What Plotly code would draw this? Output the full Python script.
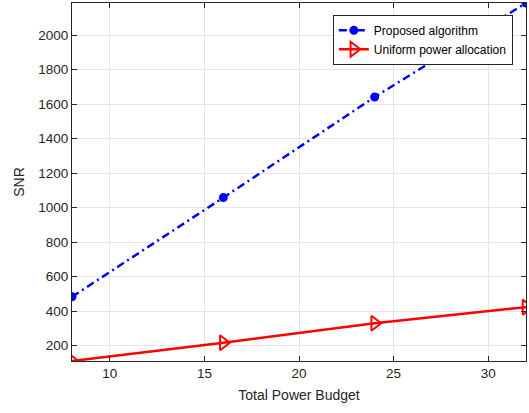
import plotly.graph_objects as go

# Total power budget values and resulting SNR for both schemes
power_budget = [8, 16, 24, 32]
snr_proposed = [483, 1058, 1641, 2186]
snr_uniform = [111, 217, 330, 423]

x_ticks = [10, 15, 20, 25, 30]
y_ticks = [200, 400, 600, 800, 1000, 1200, 1400, 1600, 1800, 2000]

axis_color = "#262626"
grid_color = "#e5e5e5"
font_family = "Liberation Sans, Arial, Helvetica, sans-serif"

fig = go.Figure()

fig.add_trace(go.Scatter(
    x=power_budget, y=snr_proposed,
    name="Proposed algorithm",
    mode="lines+markers",
    line=dict(color="#0000ff", width=2.5, dash="8px,4px,2px,4px"),
    marker=dict(symbol="circle", size=9, color="#0000ff"),
    cliponaxis=True,
))

fig.add_trace(go.Scatter(
    x=power_budget, y=snr_uniform,
    name="Uniform power allocation",
    mode="lines+markers",
    line=dict(color="#ff0000", width=2.5),
    marker=dict(symbol="triangle-right-open", size=13,
                color="#ff0000", line=dict(width=2, color="#ff0000")),
    cliponaxis=True,
))

axis_common = dict(
    showline=True, linecolor=axis_color, linewidth=1,
    mirror="ticks", ticks="inside", ticklen=5, tickcolor=axis_color,
    showgrid=True, gridcolor=grid_color, gridwidth=1,
    zeroline=False,
    tickfont=dict(family=font_family, size=13.5, color=axis_color),
    title_font=dict(family=font_family, size=14, color=axis_color),
)

fig.update_xaxes(
    range=[8, 32], tickvals=x_ticks,
    title_text="Total Power Budget", title_standoff=9,
    **axis_common,
)
fig.update_yaxes(
    range=[min(snr_uniform), max(snr_proposed)], tickvals=y_ticks,
    title_text="SNR", title_standoff=10,
    **axis_common,
)

fig.update_layout(
    width=529, height=413,
    margin=dict(l=72, r=3, t=3, b=52),
    paper_bgcolor="white", plot_bgcolor="white",
    font=dict(family=font_family, color=axis_color),
    legend=dict(
        x=0.971, y=0.967, xanchor="right", yanchor="top",
        bgcolor="white", bordercolor=axis_color, borderwidth=1,
        font=dict(family=font_family, size=12, color="#000000"),
        tracegroupgap=0, itemwidth=30,
    ),
    showlegend=True,
)

fig.write_html("out.html")
